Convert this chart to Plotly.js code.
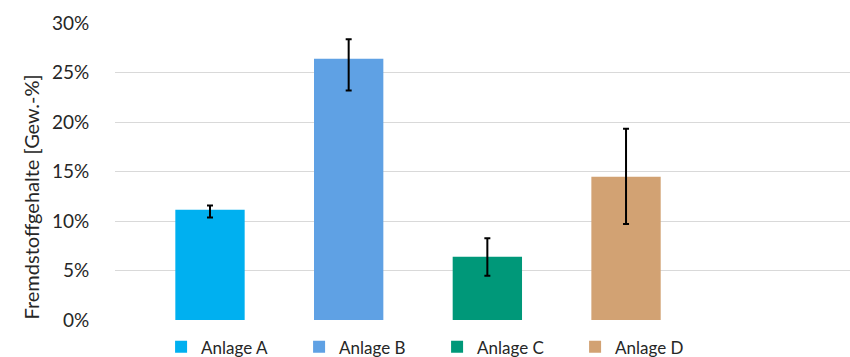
<!DOCTYPE html>
<html>
<head>
<meta charset="utf-8">
<script src="https://cdn.plot.ly/plotly-3.0.1.min.js"></script>
<style>html,body{margin:0;padding:0;background:#fff;}#chart{width:850px;height:357px;}</style>
</head>
<body>
<div id="chart"></div>
<script>
var categories = ["Anlage A", "Anlage B", "Anlage C", "Anlage D"];
var values = [0.1113, 0.2640, 0.0638, 0.1447];
var errPlus = [0.0044, 0.0197, 0.0189, 0.0486];
var errMinus = [0.0077, 0.0322, 0.0190, 0.0478];
var colors = ["#00B0F0", "#5FA1E4", "#009879", "#D2A273"];
var yTitle = "Fremdstoffgehalte [Gew.-%]";

var fontFam = "Lato, 'Open Sans', sans-serif";
var traces = categories.map(function (c, i) {
  return {
    type: "bar",
    name: c,
    x: [c],
    y: [values[i]],
    width: 0.5,
    marker: { color: colors[i], line: { width: 0 } },
    error_y: {
      type: "data",
      symmetric: false,
      array: [errPlus[i]],
      arrayminus: [errMinus[i]],
      color: "#000000",
      thickness: 2,
      width: 3
    },
    hoverinfo: "skip"
  };
});

var layout = {
  width: 850,
  height: 357,
  margin: { l: 115, r: 0, t: 23.3, b: 37.3, pad: 0, autoexpand: false },
  paper_bgcolor: "#ffffff",
  plot_bgcolor: "#ffffff",
  barmode: "overlay",
  showlegend: true,
  font: { family: fontFam, size: 17, color: "#262626" },
  xaxis: {
    type: "category",
    categoryorder: "array",
    categoryarray: categories,
    range: [-0.685, 4.615],
    showticklabels: false,
    showgrid: false,
    zeroline: false,
    showline: false,
    ticks: ""
  },
  yaxis: {
    range: [0, 0.30],
    dtick: 0.05,
    tick0: 0,
    tickformat: ".0%",
    showgrid: true,
    gridcolor: "#d9d9d9",
    gridwidth: 1,
    zeroline: false,
    showline: false,
    ticks: "outside",
    ticklen: 21,
    tickcolor: "rgba(0,0,0,0)",
    tickfont: { family: fontFam, size: 19, color: "#262626" },
    automargin: false
  },
  annotations: [{
    text: yTitle,
    textangle: -90,
    xref: "paper", yref: "paper",
    x: -(115 - 31) / 735, y: 0.5 - 26 / 296.4,
    xanchor: "center", yanchor: "middle",
    showarrow: false,
    font: { family: fontFam, size: 20, color: "#262626" }
  }],
  legend: {
    orientation: "h",
    x: 0.0627,
    xanchor: "left",
    y: -0.092,
    yanchor: "middle",
    entrywidth: 93,
    itemwidth: 30,
    font: { family: fontFam, size: 17, color: "#262626" },
    bgcolor: "rgba(0,0,0,0)",
    borderwidth: 0
  }
};

Plotly.newPlot("chart", traces, layout, { staticPlot: true, displayModeBar: false });
</script>
</body>
</html>
